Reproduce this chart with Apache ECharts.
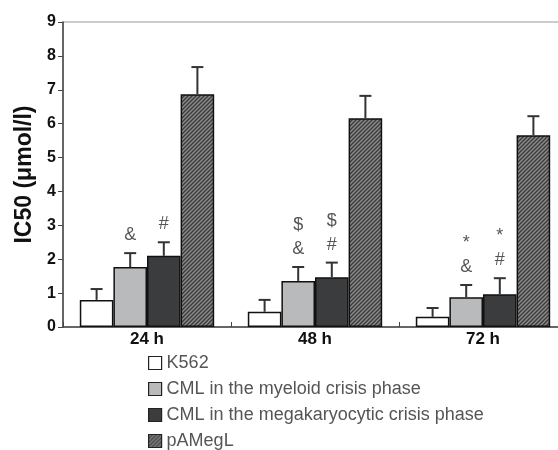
<!DOCTYPE html>
<html><head><meta charset="utf-8">
<script src="https://cdn.jsdelivr.net/npm/echarts@6/dist/echarts.min.js"></script>
<style>html,body{margin:0;padding:0;background:#fff;overflow:hidden}#c{width:568px;height:480px}</style>
</head><body><div id="c"></div>
<script>
const categories = ['24 h', '48 h', '72 h'];
const seriesNames = ['K562', 'CML in the myeloid crisis phase', 'CML in the megakaryocytic crisis phase', 'pAMegL'];
const k562 = [0.8, 0.45, 0.3];
const k562Err = [1.12, 0.8, 0.56];
const myeloid = [1.77, 1.36, 0.88];
const myeloidErr = [2.18, 1.77, 1.24];
const mega = [2.1, 1.47, 0.97];
const megaErr = [2.5, 1.9, 1.44];
const pamegl = [6.87, 6.16, 5.66];
const pameglErr = [7.67, 6.82, 6.22];
const myeloidMarks = ['&', '$\n&', '*\n&'];
const megaMarks = ['#', '$\n#', '*\n#'];
const yTicks = [0, 1, 2, 3, 4, 5, 6, 7, 8, 9];

const values = [k562, myeloid, mega, pamegl];
const errs = [k562Err, myeloidErr, megaErr, pameglErr];
const marks = [null, myeloidMarks, megaMarks, null];

// hatch pattern
const pc = document.createElement('canvas');
pc.width = 4; pc.height = 4;
const pctx = pc.getContext('2d');
pctx.fillStyle = '#8a8a8a';
pctx.fillRect(0, 0, 4, 4);
pctx.strokeStyle = '#3a3a3a';
pctx.lineWidth = 1.3;
pctx.beginPath();
pctx.moveTo(0, 4); pctx.lineTo(4, 0);
pctx.moveTo(-1, 1); pctx.lineTo(1, -1);
pctx.moveTo(3, 5); pctx.lineTo(5, 3);
pctx.stroke();
const hatch = { image: pc, repeat: 'repeat' };

const colors = ['#ffffff', '#b9babc', '#3b3c3e', hatch];
const FONT = 'Liberation Sans, Arial, sans-serif';

const chart = echarts.init(document.getElementById('c'), null, { renderer: 'canvas' });

const series = [];
values.forEach((v, i) => {
  series.push({
    name: seriesNames[i],
    type: 'bar',
    data: v,
    barWidth: '20%',
    barGap: '0%',
    itemStyle: { color: colors[i], borderColor: '#111', borderWidth: 1.5 },
    z: 2
  });
});
values.forEach((v, i) => {
  series.push({
    type: 'custom',
    name: seriesNames[i] + ' err',
    silent: true,
    z: 3,
    data: v.map((val, j) => [j, val, errs[i][j]]),
    encode: { x: 0, y: 1 },
    renderItem: function (params, api) {
      const x = api.value(0), val = api.value(1), err = api.value(2);
      const c = api.coord([x, val]);
      const t = api.coord([x, err]);
      const catW = api.size([1, 0])[0];
      const bw = catW * 0.2;
      const cx = c[0] - 2 * bw + (i + 0.5) * bw;
      const children = [
        { type: 'line', shape: { x1: cx, y1: c[1], x2: cx, y2: t[1] }, style: { stroke: '#333', lineWidth: 2 } },
        { type: 'line', shape: { x1: cx - 6, y1: t[1], x2: cx + 6, y2: t[1] }, style: { stroke: '#333', lineWidth: 2 } }
      ];
      if (marks[i]) {
        children.push({
          type: 'text',
          style: {
            x: cx, y: t[1] - 6, text: marks[i][params.dataIndex],
            textAlign: 'center', textVerticalAlign: 'bottom',
            fontSize: 18, lineHeight: 24, fill: '#555',
            fontFamily: FONT
          }
        });
      }
      return { type: 'group', children: children };
    }
  });
});

chart.setOption({
  animation: false,
  backgroundColor: '#fff',
  grid: { left: 63, top: 22, bottom: 153, right: 1, show: true, borderColor: '#999', borderWidth: 1, backgroundColor: 'transparent' },
  legend: {
    data: seriesNames,
    orient: 'vertical',
    left: 143,
    top: 349,
    itemWidth: 13,
    itemHeight: 13,
    itemGap: 8,
    icon: 'rect',
    itemStyle: { borderColor: '#222', borderWidth: 1.2 },
    textStyle: { color: '#555', fontSize: 18, fontFamily: FONT }
  },
  xAxis: {
    type: 'category',
    data: categories,
    axisLine: { lineStyle: { color: '#444', width: 1.5 } },
    axisTick: { show: true, inside: true, length: 5, lineStyle: { color: '#444' } },
    axisLabel: { color: '#111', fontWeight: 'bold', fontSize: 17, margin: 4, fontFamily: FONT }
  },
  yAxis: {
    type: 'value',
    min: 0, max: 9, interval: 1,
    name: 'IC50 (μmol/l)',
    nameLocation: 'middle',
    nameGap: 25,
    nameTextStyle: { color: '#111', fontWeight: 'bold', fontSize: 23, fontFamily: FONT },
    axisLine: { show: true, lineStyle: { color: '#444', width: 1.5 } },
    axisTick: { show: true, length: 5, lineStyle: { color: '#444' } },
    splitLine: { show: false },
    axisLabel: {
      color: '#111', fontWeight: 'bold', fontSize: 16, margin: 7,
      fontFamily: FONT,
      formatter: function (v) { return yTicks.indexOf(v) >= 0 ? String(v) : ''; }
    }
  },
  series: series
});
</script></body></html>
